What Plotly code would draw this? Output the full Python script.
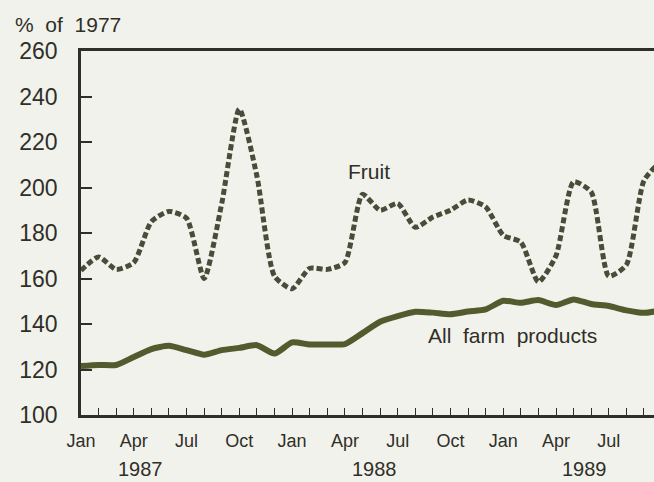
import plotly.graph_objects as go

month_names = ["Jan", "Feb", "Mar", "Apr", "May", "Jun", "Jul", "Aug", "Sep", "Oct", "Nov", "Dec"]
years = ["1987", "1988", "1989"]
year_label_pos = [3.4, 16.7, 28.6]

fruit = [163.5, 169.5, 164, 167, 185, 189.5, 186.5, 160, 193, 234.5, 205, 161,
         155.5, 164.5, 164, 167, 197, 190, 193, 182.5, 187, 190, 194.5, 191.5,
         179, 176, 158.5, 170, 202.5, 198, 161, 166, 203, 212]
all_farm = [121.5, 122, 122, 125.5, 129, 130.4, 128.5, 126.5, 128.5, 129.5, 130.7, 127,
            131.9, 131, 131, 131.2, 136, 141, 143.5, 145.4, 145, 144.3, 145.5, 146.4,
            150.2, 149.3, 150.5, 148.3, 150.8, 148.8, 147.9, 146, 144.9, 146]

y_ticks = [100, 120, 140, 160, 180, 200, 220, 240, 260]

n = len(fruit)
months = list(range(n))
tick_text = [month_names[m % 12] if m % 3 == 0 else "" for m in months]

ink = "#2f2f28"
bg = "#f2f2ec"
font = "Liberation Sans, Arial, sans-serif"

fig = go.Figure()
fig.add_trace(go.Scatter(x=months, y=all_farm, mode="lines",
                         line=dict(color="#515b2e", width=6, shape="spline", smoothing=0.6),
                         showlegend=False, hoverinfo="skip"))
fig.add_trace(go.Scatter(x=months, y=fruit, mode="lines",
                         line=dict(color="#4a4c3a", width=5, dash="6px,3px", shape="spline", smoothing=0.6),
                         showlegend=False, hoverinfo="skip"))

fig.update_layout(
    width=654, height=482,
    margin=dict(l=81, r=0, t=51, b=67),
    paper_bgcolor=bg, plot_bgcolor=bg,
    font=dict(family=font, color=ink),
    showlegend=False,
    xaxis=dict(range=[0, 32.57], tickvals=months, ticktext=tick_text,
               ticks="inside", ticklen=7, tickwidth=1, tickcolor=ink,
               showline=True, linecolor=ink, linewidth=2.5, mirror=True,
               showgrid=False, zeroline=False,
               tickfont=dict(size=18, color=ink), ticklabelstandoff=8),
    yaxis=dict(range=[100, 260], tickvals=y_ticks,
               ticks="inside", ticklen=11, tickwidth=1.5, tickcolor=ink,
               showline=True, linecolor=ink, linewidth=2.5, mirror=False,
               showgrid=False, zeroline=False,
               tickfont=dict(size=23, color=ink), ticklabelstandoff=16),
)

annotations = [
    dict(text="%\u00a0 of\u00a0 1977", xref="paper", yref="paper", x=-0.1186, y=1.073,
         xanchor="left", yanchor="middle", showarrow=False, font=dict(size=21, color=ink)),
    dict(text="Fruit", xref="x", yref="y", x=16.38, y=206.9,
         xanchor="center", yanchor="middle", showarrow=False, font=dict(size=21, color=ink)),
    dict(text="All\u00a0 farm\u00a0 products", xref="x", yref="y", x=24.53, y=135.1,
         xanchor="center", yanchor="middle", showarrow=False, font=dict(size=21, color=ink)),
]
for yr, pos in zip(years, year_label_pos):
    annotations.append(dict(text=yr, xref="x", yref="paper", x=pos, y=-0.1835,
                            xanchor="center", yanchor="bottom", showarrow=False,
                            font=dict(size=20, color=ink)))
fig.update_layout(annotations=annotations)

fig.write_html("out.html", config={"displayModeBar": False},
               post_script="document.body.style.margin='0px';document.body.style.overflow='hidden';")
